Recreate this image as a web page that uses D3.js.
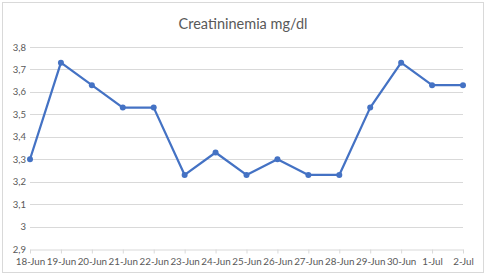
<!DOCTYPE html>
<html><head><meta charset="utf-8">
<script src="https://cdn.jsdelivr.net/npm/d3@7"></script>
<style>body{margin:0;background:#fff;}svg{display:block;}</style>
</head><body>
<script>
const categories = ["18-Jun","19-Jun","20-Jun","21-Jun","22-Jun","23-Jun","24-Jun","25-Jun","26-Jun","27-Jun","28-Jun","29-Jun","30-Jun","1-Jul","2-Jul"];
const values = [3.3,3.73,3.63,3.53,3.53,3.23,3.33,3.23,3.3,3.23,3.23,3.53,3.73,3.63,3.63];
const yTicks = [2.9,3,3.1,3.2,3.3,3.4,3.5,3.6,3.7,3.8];
const title = "Creatininemia mg/dl";

const W=487,H=276;
const svg=d3.select("body").append("svg").attr("width",W).attr("height",H);
svg.append("rect").attr("x",2.5).attr("y",2.5).attr("width",481).attr("height",270).attr("fill","#fff").attr("stroke","#d9d9d9");
const font="Lato, 'Open Sans', sans-serif";
svg.append("text").attr("x",243).attr("y",29).attr("text-anchor","middle").attr("font-family",font).attr("font-size",14.5).attr("fill","#595959").text(title);

const x=d3.scalePoint().domain(categories).range([30,463]);
const y=d3.scaleLinear().domain([2.9,3.8]).range([249,47]);

const fmt=v=>String(+v.toFixed(1)).replace(".",",");
svg.append("g").selectAll("line").data(yTicks.filter(v=>v>2.9)).join("line")
 .attr("x1",30).attr("x2",463).attr("y1",d=>Math.round(y(d))+0.5).attr("y2",d=>Math.round(y(d))+0.5)
 .attr("stroke","#d9d9d9").attr("stroke-width",1);
svg.append("g").selectAll("text").data(yTicks).join("text")
 .attr("x",26).attr("y",d=>y(d)+3.5).attr("text-anchor","end").attr("font-family",font).attr("font-size",9.5).attr("fill","#595959").text(fmt);
const xa=svg.append("g").attr("transform",`translate(0,${Math.round(y(2.9))+0.5})`)
 .call(d3.axisBottom(x).tickSize(4).tickSizeOuter(0));
xa.select(".domain").attr("stroke","#d9d9d9");
xa.selectAll(".tick line").attr("stroke","#d9d9d9");
xa.selectAll(".tick text").attr("font-family",font).attr("font-size",9.8).attr("fill","#595959").attr("dy","0.85em");

const line=d3.line().x((d,i)=>x(categories[i])).y(d=>y(d));
svg.append("path").datum(values).attr("d",line).attr("fill","none").attr("stroke","#4472C4").attr("stroke-width",2.25).attr("stroke-linejoin","round");
svg.append("g").selectAll("circle").data(values).join("circle")
 .attr("cx",(d,i)=>x(categories[i])).attr("cy",d=>y(d)).attr("r",3).attr("fill","#4472C4");
</script>
</body></html>
